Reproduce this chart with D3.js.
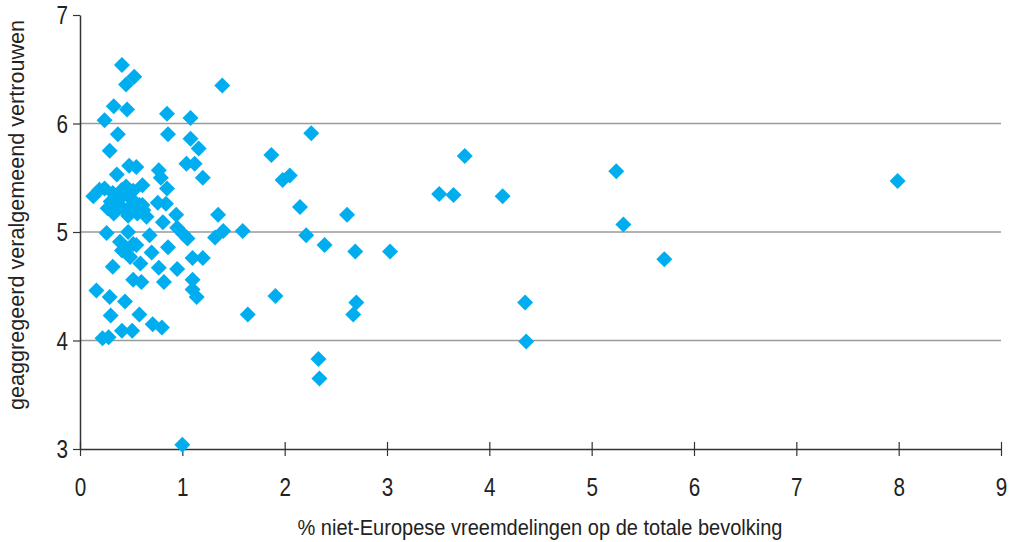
<!DOCTYPE html>
<html><head><meta charset="utf-8">
<script src="https://cdn.jsdelivr.net/npm/d3@7"></script>
<style>
html,body{margin:0;padding:0;background:#fff;}
svg text{font-family:"Liberation Sans Narrow","Arial Narrow","Liberation Sans",Arial,sans-serif;fill:#222;}
</style></head>
<body>
<svg id="chart" width="1016" height="542"></svg>
<script>
// % niet-Europese vreemdelingen (x) en geaggregeerd veralgemeend vertrouwen (y)
const xValues = [
  0.41,0.53,0.45,1.39,0.33,0.46,0.85,1.08,0.24,0.37,0.86,1.08,2.26,0.29,1.16,1.87,3.76,0.48,0.55,0.77,1.04,1.12,5.24,0.36,0.79,1.20,1.98,2.05,7.99,
  0.61,0.85,0.13,0.19,0.24,0.32,0.41,0.45,0.46,0.52,0.52,0.38,0.30,0.27,0.33,0.42,0.47,0.56,0.58,0.61,0.65,0.76,0.84,0.94,0.81,0.62,0.36,0.50,3.51,3.65,4.13,2.15,2.61,1.35,5.31,
  0.26,0.47,0.68,0.95,1.01,1.05,1.32,1.40,1.59,2.21,0.39,0.45,0.52,0.49,0.70,0.86,2.39,2.69,3.03,0.55,0.41,
  0.32,0.59,0.77,0.95,1.10,1.20,5.71,0.52,0.60,0.82,1.10,1.10,1.14,0.16,0.29,0.44,0.30,0.58,1.91,1.64,2.70,2.67,4.35,0.41,0.51,0.22,0.28,0.71,0.80,4.36,2.33,2.34,1.00
];
const yValues = [
  6.54,6.43,6.36,6.35,6.16,6.13,6.09,6.05,6.03,5.90,5.90,5.86,5.91,5.75,5.77,5.71,5.70,5.61,5.60,5.57,5.63,5.63,5.56,5.53,5.50,5.50,5.48,5.52,5.47,
  5.43,5.40,5.33,5.39,5.40,5.36,5.39,5.42,5.34,5.38,5.29,5.30,5.28,5.22,5.17,5.22,5.15,5.17,5.25,5.25,5.14,5.27,5.26,5.16,5.09,5.20,5.25,5.24,5.35,5.34,5.33,5.23,5.16,5.16,5.07,
  4.99,5.00,4.97,5.04,4.98,4.94,4.95,5.01,5.01,4.97,4.91,4.85,4.89,4.77,4.81,4.86,4.88,4.82,4.82,4.88,4.83,
  4.68,4.71,4.67,4.66,4.76,4.76,4.75,4.56,4.54,4.54,4.56,4.47,4.40,4.46,4.40,4.36,4.23,4.24,4.41,4.24,4.35,4.24,4.35,4.09,4.09,4.02,4.03,4.15,4.12,3.99,3.83,3.65,3.04
];
const xTicks = [0,1,2,3,4,5,6,7,8,9];
const yTicks = [3,4,5,6,7];
const xTitle = "% niet-Europese vreemdelingen op de totale bevolking";
const yTitle = "geaggregeerd veralgemeend vertrouwen";

const points = xValues.map((x,i)=>({x, y:yValues[i]}));

const svg = d3.select("#chart");
const x = d3.scaleLinear().domain([0,9]).range([80,1001]);
const y = d3.scaleLinear().domain([3,7]).range([449,15]);

// gridlines
svg.append("g").selectAll("line").data(yTicks.filter(t=>t>3 && t<7)).join("line")
  .attr("x1",x(0)).attr("x2",x(9)).attr("y1",d=>y(d)).attr("y2",d=>y(d))
  .attr("stroke","#9a9a9a").attr("stroke-width",1.3);

// x axis
const xAxis = svg.append("g").attr("transform",`translate(0,${y(3)})`)
  .call(d3.axisBottom(x).tickValues(xTicks).tickFormat(d3.format("d")).tickSize(7).tickSizeOuter(0));
xAxis.select(".domain").attr("stroke","#333").attr("stroke-width",1.5);
xAxis.selectAll(".tick line").attr("stroke","#333").attr("y1",-7).attr("stroke-width",1.2);
xAxis.selectAll(".tick text").attr("font-size",25).attr("dy",0).attr("y",47).attr("fill","#222")
  .attr("textLength",11.5).attr("lengthAdjust","spacingAndGlyphs");

// y axis
const yAxis = svg.append("g").attr("transform",`translate(${x(0)},0)`)
  .call(d3.axisLeft(y).tickValues(yTicks).tickFormat(d3.format("d")).tickSize(7).tickSizeOuter(0));
yAxis.select(".domain").attr("stroke","#333").attr("stroke-width",1.5);
yAxis.selectAll(".tick line").attr("stroke","#333").attr("stroke-width",1.2);
yAxis.selectAll(".tick text").attr("font-size",25).attr("x",-12).attr("dy","0.35em").attr("fill","#222")
  .attr("textLength",11.5).attr("lengthAdjust","spacingAndGlyphs");

// points
svg.append("g").selectAll("path").data(points).join("path")
  .attr("transform",d=>`translate(${x(d.x)},${y(d.y)})`)
  .attr("d","M0,-8L8,0L0,8L-8,0Z")
  .attr("fill","#00AEEF");

// titles
svg.append("text").attr("x",540).attr("y",535).attr("text-anchor","middle")
  .attr("font-size",22).attr("textLength",485).attr("lengthAdjust","spacingAndGlyphs").text(xTitle);
svg.append("text").attr("transform","translate(24,215) rotate(-90)").attr("text-anchor","middle")
  .attr("font-size",22).attr("textLength",390).attr("lengthAdjust","spacingAndGlyphs").text(yTitle);
</script>
</body></html>
